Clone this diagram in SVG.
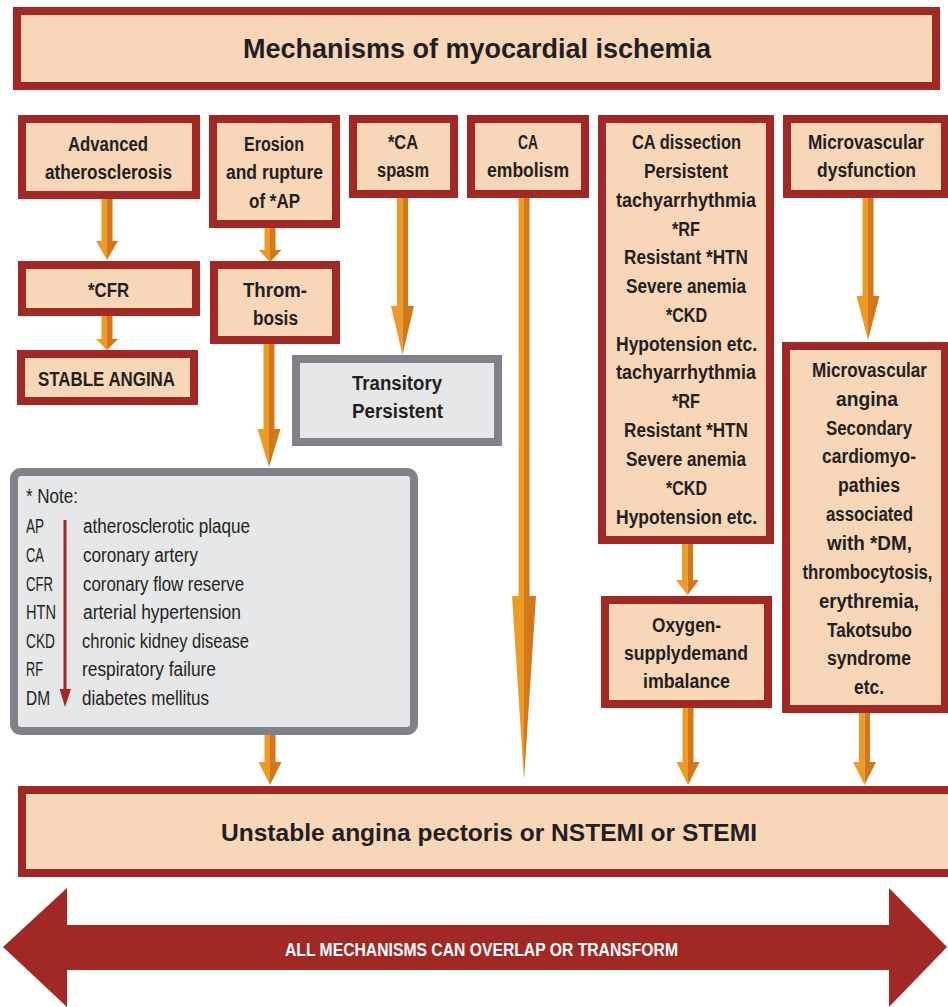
<svg xmlns="http://www.w3.org/2000/svg" width="948" height="1007" viewBox="0 0 948 1007">
  <style>
    .box { fill: #F8D6B8; stroke: #A12824; stroke-width: 8; }
    .gbox { fill: #E6E7E8; stroke: #808189; stroke-width: 8; }
    .t { font-family: "Liberation Sans", Arial, sans-serif; font-weight: bold; font-size: 20px; fill: #231F20; text-anchor: middle; }
    .n { font-family: "Liberation Sans", Arial, sans-serif; font-size: 19.5px; fill: #231F20; }
    .lt { fill: #EE9B26; }
    .dk { fill: #D2781A; }
  </style>

  <!-- header -->
  <g id="title">
    <rect class="box" x="17" y="11" width="919" height="75"/>
    <text class="t" x="477" y="58" style="font-size:27px" textLength="468" lengthAdjust="spacingAndGlyphs">Mechanisms of myocardial ischemia</text>
  </g>

  <!-- arrows between boxes: each one is a light left half and a dark right half -->
  <g id="connectors">
    <path class="lt" d="M101.5,199 H107 V260 L96,241 H101.5 Z"/>
    <path class="dk" d="M107,199 H112.5 V241 H118 L107,260 Z"/>

    <path class="lt" d="M101.5,316 H107 V350 L96,339 H101.5 Z"/>
    <path class="dk" d="M107,316 H112.5 V339 H118 L107,350 Z"/>

    <path class="lt" d="M264.5,228 H270 V262 L258.5,250 H264.5 Z"/>
    <path class="dk" d="M270,228 H275.5 V250 H281.5 L270,262 Z"/>

    <path class="lt" d="M263.5,344 H269 V467 L257.5,429 H263.5 Z"/>
    <path class="dk" d="M269,344 H274.5 V429 H280.5 L269,467 Z"/>

    <path class="lt" d="M264.5,735 H270 V785 L258.5,762 H264.5 Z"/>
    <path class="dk" d="M270,735 H275.5 V762 H281.5 L270,785 Z"/>

    <path class="lt" d="M397,198 H402.5 V355 L391,306 H397 Z"/>
    <path class="dk" d="M402.5,198 H408 V306 H414 L402.5,355 Z"/>

    <path class="lt" d="M518.5,198 H524 V780 L512,596 H518.5 Z"/>
    <path class="dk" d="M524,198 H529.5 V596 H536 L524,780 Z"/>

    <path class="lt" d="M682,544 H687.5 V595 L676,580 H682 Z"/>
    <path class="dk" d="M687.5,544 H693 V580 H699 L687.5,595 Z"/>

    <path class="lt" d="M682.5,708 H688 V785 L676.5,762 H682.5 Z"/>
    <path class="dk" d="M688,708 H693.5 V762 H699.5 L688,785 Z"/>

    <path class="lt" d="M862.5,198 H868 V340 L856.5,296 H862.5 Z"/>
    <path class="dk" d="M868,198 H873.5 V296 H879.5 L868,340 Z"/>

    <path class="lt" d="M859,713 H864.5 V785 L853,762 H859 Z"/>
    <path class="dk" d="M864.5,713 H870 V762 H876 L864.5,785 Z"/>
  </g>

  <g id="advanced-atherosclerosis">
    <rect class="box" x="22" y="119" width="174" height="76"/>
    <text class="t" x="108" y="151" textLength="80" lengthAdjust="spacingAndGlyphs">Advanced</text>
    <text class="t" x="108.5" y="179" textLength="127" lengthAdjust="spacingAndGlyphs">atherosclerosis</text>
  </g>

  <g id="erosion-rupture">
    <rect class="box" x="213" y="119" width="123" height="105"/>
    <text class="t" x="274" y="151" textLength="60" lengthAdjust="spacingAndGlyphs">Erosion</text>
    <text class="t" x="274.5" y="179" textLength="97" lengthAdjust="spacingAndGlyphs">and rupture</text>
    <text class="t" x="274.5" y="208" textLength="51" lengthAdjust="spacingAndGlyphs">of *AP</text>
  </g>

  <g id="ca-spasm">
    <rect class="box" x="353" y="119" width="101" height="75"/>
    <text class="t" x="403" y="149" textLength="30" lengthAdjust="spacingAndGlyphs">*CA</text>
    <text class="t" x="403" y="177" textLength="52" lengthAdjust="spacingAndGlyphs">spasm</text>
  </g>

  <g id="ca-embolism">
    <rect class="box" x="471" y="119" width="114" height="75"/>
    <text class="t" x="528" y="149" textLength="20" lengthAdjust="spacingAndGlyphs">CA</text>
    <text class="t" x="528" y="177" textLength="82" lengthAdjust="spacingAndGlyphs">embolism</text>
  </g>

  <g id="ca-dissection">
    <rect class="box" x="602" y="119" width="168" height="421"/>
    <text class="t" x="686.5" y="149" textLength="109" lengthAdjust="spacingAndGlyphs">CA dissection</text>
    <text class="t" x="686" y="178" textLength="84" lengthAdjust="spacingAndGlyphs">Persistent</text>
    <text class="t" x="686" y="206.5" textLength="140" lengthAdjust="spacingAndGlyphs">tachyarrhythmia</text>
    <text class="t" x="686" y="235.5" textLength="28" lengthAdjust="spacingAndGlyphs">*RF</text>
    <text class="t" x="686" y="264" textLength="124" lengthAdjust="spacingAndGlyphs">Resistant *HTN</text>
    <text class="t" x="686" y="293" textLength="120" lengthAdjust="spacingAndGlyphs">Severe anemia</text>
    <text class="t" x="686.5" y="322" textLength="41" lengthAdjust="spacingAndGlyphs">*CKD</text>
    <text class="t" x="686.5" y="350.5" textLength="141" lengthAdjust="spacingAndGlyphs">Hypotension etc.</text>
    <text class="t" x="686" y="379" textLength="140" lengthAdjust="spacingAndGlyphs">tachyarrhythmia</text>
    <text class="t" x="686" y="408" textLength="28" lengthAdjust="spacingAndGlyphs">*RF</text>
    <text class="t" x="686" y="437" textLength="124" lengthAdjust="spacingAndGlyphs">Resistant *HTN</text>
    <text class="t" x="686" y="466" textLength="120" lengthAdjust="spacingAndGlyphs">Severe anemia</text>
    <text class="t" x="686.5" y="495" textLength="41" lengthAdjust="spacingAndGlyphs">*CKD</text>
    <text class="t" x="686.5" y="523.5" textLength="141" lengthAdjust="spacingAndGlyphs">Hypotension etc.</text>
  </g>

  <g id="microvascular-dysfunction">
    <rect class="box" x="787" y="119" width="158" height="75"/>
    <text class="t" x="866" y="149" textLength="116" lengthAdjust="spacingAndGlyphs">Microvascular</text>
    <text class="t" x="866.5" y="177" textLength="99" lengthAdjust="spacingAndGlyphs">dysfunction</text>
  </g>

  <g id="cfr">
    <rect class="box" x="22" y="265" width="174" height="47"/>
    <text class="t" x="108.5" y="297" textLength="41" lengthAdjust="spacingAndGlyphs">*CFR</text>
  </g>

  <g id="thrombosis">
    <rect class="box" x="214" y="265" width="122" height="75"/>
    <text class="t" x="275" y="297" textLength="64" lengthAdjust="spacingAndGlyphs">Throm-</text>
    <text class="t" x="275.5" y="325" textLength="45" lengthAdjust="spacingAndGlyphs">bosis</text>
  </g>

  <g id="stable-angina">
    <rect class="box" x="21" y="354" width="173" height="47"/>
    <text class="t" x="106.5" y="386" textLength="137" lengthAdjust="spacingAndGlyphs">STABLE ANGINA</text>
  </g>

  <g id="transitory-persistent">
    <rect class="gbox" x="296" y="359" width="202" height="83"/>
    <text class="t" x="397" y="390" textLength="90" lengthAdjust="spacingAndGlyphs">Transitory</text>
    <text class="t" x="397.5" y="418" textLength="91" lengthAdjust="spacingAndGlyphs">Persistent</text>
  </g>

  <g id="note">
    <rect class="gbox" x="14" y="472" width="400" height="259" rx="7"/>
    <text class="n" x="26" y="503" textLength="52" lengthAdjust="spacingAndGlyphs">* Note:</text>
    <text class="n" x="26" y="533" textLength="18" lengthAdjust="spacingAndGlyphs">AP</text>
    <text class="n" x="26" y="562" textLength="18" lengthAdjust="spacingAndGlyphs">CA</text>
    <text class="n" x="26" y="590.5" textLength="27" lengthAdjust="spacingAndGlyphs">CFR</text>
    <text class="n" x="26" y="619" textLength="30" lengthAdjust="spacingAndGlyphs">HTN</text>
    <text class="n" x="26" y="647.5" textLength="29" lengthAdjust="spacingAndGlyphs">CKD</text>
    <text class="n" x="26" y="676" textLength="17" lengthAdjust="spacingAndGlyphs">RF</text>
    <text class="n" x="26" y="705" textLength="24" lengthAdjust="spacingAndGlyphs">DM</text>
    <path d="M65,520 V692" stroke="#A12824" stroke-width="3" fill="none"/>
    <path d="M59.5,689 H71 L65,707 Z" fill="#A12824"/>
    <text class="n" x="83" y="533" textLength="167" lengthAdjust="spacingAndGlyphs">atherosclerotic plaque</text>
    <text class="n" x="83" y="562" textLength="115" lengthAdjust="spacingAndGlyphs">coronary artery</text>
    <text class="n" x="83" y="590.5" textLength="161" lengthAdjust="spacingAndGlyphs">coronary flow reserve</text>
    <text class="n" x="83" y="619" textLength="158" lengthAdjust="spacingAndGlyphs">arterial hypertension</text>
    <text class="n" x="82" y="647.5" textLength="167" lengthAdjust="spacingAndGlyphs">chronic kidney disease</text>
    <text class="n" x="82" y="676" textLength="134" lengthAdjust="spacingAndGlyphs">respiratory failure</text>
    <text class="n" x="82" y="705" textLength="127" lengthAdjust="spacingAndGlyphs">diabetes mellitus</text>
  </g>

  <g id="microvascular-angina">
    <rect class="box" x="786" y="346" width="159" height="363"/>
    <text class="t" x="869.5" y="377" textLength="115" lengthAdjust="spacingAndGlyphs">Microvascular</text>
    <text class="t" x="867" y="405.5" textLength="62" lengthAdjust="spacingAndGlyphs">angina</text>
    <text class="t" x="869" y="434.5" textLength="86" lengthAdjust="spacingAndGlyphs">Secondary</text>
    <text class="t" x="869" y="463" textLength="94" lengthAdjust="spacingAndGlyphs">cardiomyo-</text>
    <text class="t" x="869" y="492" textLength="62" lengthAdjust="spacingAndGlyphs">pathies</text>
    <text class="t" x="869.5" y="521" textLength="87" lengthAdjust="spacingAndGlyphs">associated</text>
    <text class="t" x="869.5" y="550" textLength="85" lengthAdjust="spacingAndGlyphs">with *DM,</text>
    <text class="t" x="867.5" y="578.5" textLength="130" lengthAdjust="spacingAndGlyphs">thrombocytosis,</text>
    <text class="t" x="869" y="607.5" textLength="100" lengthAdjust="spacingAndGlyphs">erythremia,</text>
    <text class="t" x="869.5" y="636.5" textLength="85" lengthAdjust="spacingAndGlyphs">Takotsubo</text>
    <text class="t" x="869" y="665" textLength="84" lengthAdjust="spacingAndGlyphs">syndrome</text>
    <text class="t" x="869" y="694" textLength="30" lengthAdjust="spacingAndGlyphs">etc.</text>
  </g>

  <g id="oxygen-imbalance">
    <rect class="box" x="605" y="600" width="163" height="104"/>
    <text class="t" x="686.5" y="632" textLength="69" lengthAdjust="spacingAndGlyphs">Oxygen-</text>
    <text class="t" x="686" y="660" textLength="124" lengthAdjust="spacingAndGlyphs">supplydemand</text>
    <text class="t" x="686.5" y="688" textLength="87" lengthAdjust="spacingAndGlyphs">imbalance</text>
  </g>

  <g id="outcome">
    <rect class="box" x="22" y="790" width="930" height="83"/>
    <text class="t" x="489" y="841" style="font-size:24.5px" textLength="536" lengthAdjust="spacingAndGlyphs">Unstable angina pectoris or NSTEMI or STEMI</text>
  </g>

  <!-- two-headed banner along the bottom -->
  <g id="overlap-banner">
    <polygon points="3,947 67,888 67,925 889,925 889,888 947,947 889,1007 889,970 67,970 67,1007" fill="#A12824"/>
    <text class="t" x="481.5" y="955.5" style="font-size:18.5px;fill:#FFFFFF" textLength="393" lengthAdjust="spacingAndGlyphs">ALL MECHANISMS CAN OVERLAP OR TRANSFORM</text>
  </g>
</svg>
